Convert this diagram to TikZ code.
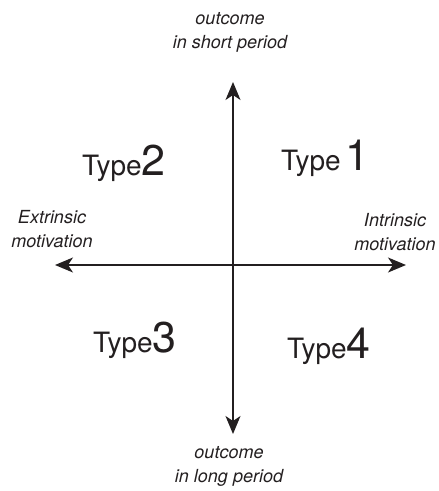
\documentclass[tikz,border=0pt]{standalone}
\usepackage{fontspec}
\setmainfont{TeX Gyre Heros}
\usetikzlibrary{arrows.meta}
\definecolor{ink}{HTML}{231F20}
\begin{document}
\begin{tikzpicture}[x=1pt,y=-1pt,
  axis/.style={draw=ink,line width=1.6pt,-{Stealth[length=18pt,width=15pt,inset=5pt]}},
  lbl/.style={text=ink,font=\fontsize{18}{24}\selectfont\itshape,align=center,inner sep=0pt},
  typ/.style={text=ink,font=\fontsize{28}{28}\selectfont,anchor=base west,inner sep=0pt},
  big/.style={font=\fontsize{43}{43}\selectfont}]
\useasboundingbox (0,0) rectangle (439,491);
\coordinate (c) at (233,265);
\coordinate (top) at (233,82);
\coordinate (bot) at (233,434);
\coordinate (lft) at (55,265);
\coordinate (rgt) at (406,265);
\draw[axis] (c) -- (top);
\draw[axis] (c) -- (bot);
\draw[axis] (c) -- (lft);
\draw[axis] (c) -- (rgt);
\node[lbl] (tlab) at (230,32) {outcome\\in short period};
\node[lbl] (blab) at (229,466) {outcome\\in long period};
\node[lbl] (llab) at (52,229) {Extrinsic\\motivation};
\node[lbl] (rlab) at (395,232) {Intrinsic\\motivation};
\node[typ] (t1) at (281,170) {Type\,{\fontsize{43}{43}\selectfont 1}};
\node[typ] (t2) at (82,175) {Type{\fontsize{43}{43}\selectfont 2}};
\node[typ] (t3) at (93,352) {Type{\fontsize{43}{43}\selectfont 3}};
\node[typ] (t4) at (287,358) {Type{\fontsize{43}{43}\selectfont 4}};
\end{tikzpicture}
\end{document}
